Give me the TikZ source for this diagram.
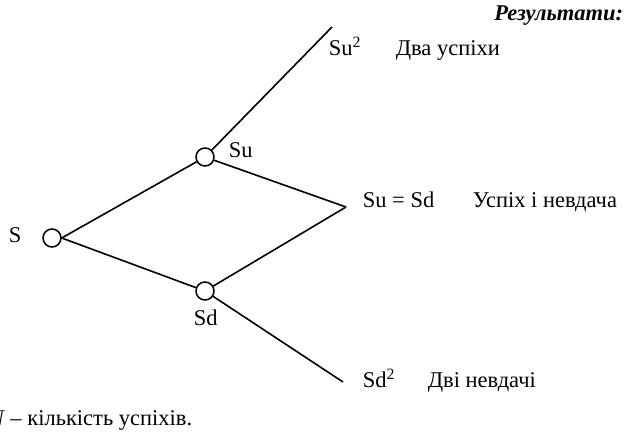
\documentclass[tikz,border=0pt]{standalone}
\usepackage{fontspec}
\setmainfont{Liberation Serif}
\usepackage{tikz}
\usetikzlibrary{positioning}

\tikzset{
  knot/.style={circle,draw,line width=1.5pt,minimum size=18pt,inner sep=0pt},
  lbl/.style={anchor=base west,inner sep=0pt},
}

\begin{document}
\begin{tikzpicture}[x=1pt, y=-1pt, line width=1.6pt, font=\fontsize{22.5}{26}\selectfont]
  \useasboundingbox (0,0) rectangle (628,434);
  % tree nodes
  \node[knot] (S)  at (52,238)  {};
  \node[knot] (Su) at (205,157) {};
  \node[knot] (Sd) at (205,291) {};
  \coordinate (Su2) at (332,27);
  \coordinate (Sud) at (346,207);
  \coordinate (Sd2) at (343,382);
  % branches
  \draw (S.east) -- (Su);
  \draw (S.east) -- (Sd);
  \draw (Su) -- (Su2);
  \draw (Su) -- (Sud);
  \draw (Sd) -- (Sud);
  \draw (Sd) -- (Sd2);
  % labels
  \node[lbl] (lS)   at (8,242)   {S};
  \node[lbl] (lSu)  at (228,157) {Su};
  \node[lbl] (lSd)  at (193,325) {Sd};
  \node[lbl] (lSu2) at (328,55)  {Su\textsuperscript{2}};
  \node[lbl] (lSud) at (362,207) {Su = Sd};
  \node[lbl] (lSd2) at (362,387) {Sd\textsuperscript{2}};
  % outcomes
  \node[anchor=base east,inner sep=0pt,font=\fontsize{22.5}{26}\selectfont\bfseries\itshape] (res) at (624,20) {Результати:};
  \node[lbl] (o1) at (395,55)  {Два успіхи};
  \node[lbl] (o2) at (472,207) {Успіх і невдача};
  \node[lbl] (o3) at (427,387) {Дві невдачі};
  \node[anchor=base east,inner sep=0pt] (note) at (193,425) {\textit{N} – кількість успіхів.};
\end{tikzpicture}
\end{document}
